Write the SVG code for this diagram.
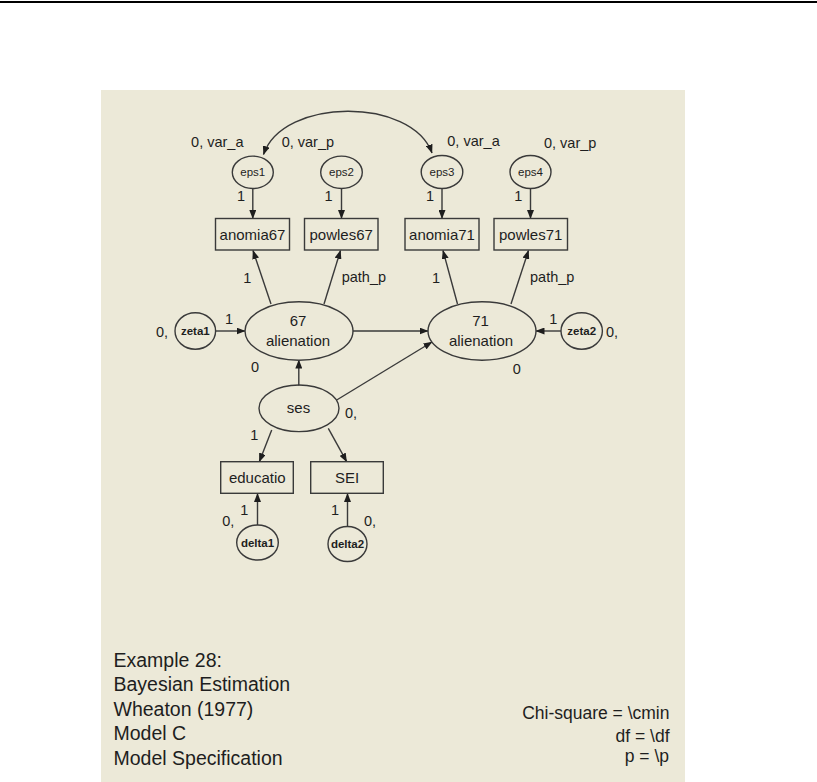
<svg xmlns="http://www.w3.org/2000/svg" width="817" height="782" viewBox="0 0 817 782">
<style>
text{font-family:"Liberation Sans",Arial,sans-serif;fill:#1e1e1e}
.lb{font-size:14.5px}
.nd{font-size:15px;text-anchor:middle}
.sm{font-size:11.5px;text-anchor:middle}
.sm2{font-size:11.5px;text-anchor:middle;font-weight:bold}
.note{font-size:19.5px}
.fit{font-size:17.5px;text-anchor:end}
.shape{fill:none;stroke:#3a3a3a;stroke-width:1.4}
.cn{fill:none;stroke:#3a3a3a;stroke-width:1.4;marker-end:url(#ah)}
</style>
<defs>
<marker id="ah" markerUnits="userSpaceOnUse" markerWidth="9" markerHeight="7" refX="8.5" refY="3.5" orient="auto-start-reverse">
<path d="M0,0 L9,3.5 L0,7 Z" fill="#1e1e1e"/>
</marker>
</defs>
<rect x="0" y="0" width="817" height="782" fill="#ffffff"/>
<rect x="0" y="1" width="817" height="2" fill="#000000"/>
<rect x="101" y="90" width="584" height="692" fill="#ECE9D8"/>

<g id="connectors">
<path class="cn" marker-start="url(#ah)" d="M263.5,154.5 C283,97 412,97 432,153"/>
<line class="cn" x1="252.8" y1="188.5" x2="252.8" y2="218.5"/>
<line class="cn" x1="341.5" y1="188.5" x2="341.5" y2="218.5"/>
<line class="cn" x1="442" y1="188.5" x2="442" y2="218.5"/>
<line class="cn" x1="530.5" y1="188.5" x2="530.5" y2="218.5"/>
<line class="cn" x1="271" y1="304" x2="253" y2="250.5"/>
<line class="cn" x1="324" y1="304" x2="340.5" y2="250.5"/>
<line class="cn" x1="457.5" y1="304" x2="443" y2="250.5"/>
<line class="cn" x1="511" y1="304" x2="528.5" y2="250.5"/>
<line class="cn" x1="215.6" y1="331" x2="245" y2="331"/>
<line class="cn" x1="353" y1="331" x2="428" y2="331"/>
<line class="cn" x1="561" y1="331" x2="536" y2="331"/>
<line class="cn" x1="298.8" y1="385.5" x2="298.8" y2="360"/>
<line class="cn" x1="336.7" y1="400" x2="432" y2="342"/>
<line class="cn" x1="271.7" y1="430" x2="259.3" y2="461.7"/>
<line class="cn" x1="328.3" y1="428.3" x2="346.7" y2="461.7"/>
<line class="cn" x1="257.5" y1="525" x2="257.5" y2="493.5"/>
<line class="cn" x1="347.5" y1="526.5" x2="347.5" y2="493.5"/>
</g>

<g id="eps1"><ellipse class="shape" cx="252.8" cy="172.3" rx="20.5" ry="16.2"/><text class="sm" x="252.8" y="176.3">eps1</text></g>
<g id="eps2"><ellipse class="shape" cx="341.5" cy="172.3" rx="20.8" ry="16.2"/><text class="sm" x="341.5" y="176.3">eps2</text></g>
<g id="eps3"><ellipse class="shape" cx="442" cy="172" rx="20.8" ry="16.5"/><text class="sm" x="442" y="176">eps3</text></g>
<g id="eps4"><ellipse class="shape" cx="530.5" cy="172" rx="20.5" ry="16.5"/><text class="sm" x="530.5" y="176">eps4</text></g>

<g id="var-labels">
<text class="lb" x="243.5" y="146.5" text-anchor="end">0, var_a</text>
<text class="lb" x="281.7" y="146.5">0, var_p</text>
<text class="lb" x="447.3" y="145.5">0, var_a</text>
<text class="lb" x="544" y="147.5">0, var_p</text>
<text class="lb" x="241" y="201" text-anchor="middle">1</text>
<text class="lb" x="328.5" y="201" text-anchor="middle">1</text>
<text class="lb" x="430" y="201" text-anchor="middle">1</text>
<text class="lb" x="518.3" y="201" text-anchor="middle">1</text>
</g>

<g id="anomia67"><rect class="shape" x="215.5" y="218.5" width="74" height="31.5"/><text class="nd" x="252.5" y="239.5">anomia67</text></g>
<g id="powles67"><rect class="shape" x="304.5" y="218.5" width="73.5" height="31.5"/><text class="nd" x="341.2" y="239.5">powles67</text></g>
<g id="anomia71"><rect class="shape" x="405" y="218.5" width="74" height="31.5"/><text class="nd" x="442" y="239.5">anomia71</text></g>
<g id="powles71"><rect class="shape" x="494" y="218.5" width="73.5" height="31.5"/><text class="nd" x="530.7" y="239.5">powles71</text></g>

<g id="path-labels">
<text class="lb" x="247.3" y="282.5" text-anchor="middle">1</text>
<text class="lb" x="341.7" y="282">path_p</text>
<text class="lb" x="436" y="282.5" text-anchor="middle">1</text>
<text class="lb" x="530" y="282">path_p</text>
</g>

<g id="alienation67"><ellipse class="shape" cx="299" cy="331" rx="54" ry="29.2"/><text class="nd" x="298" y="325.5">67</text><text class="nd" x="298" y="346">alienation</text></g>
<g id="alienation71"><ellipse class="shape" cx="482" cy="331" rx="54" ry="29.2"/><text class="nd" x="480.5" y="325.5">71</text><text class="nd" x="481" y="346">alienation</text></g>

<g id="zeta1"><ellipse class="shape" cx="195.3" cy="331" rx="20.3" ry="18.2"/><text class="sm2" x="195.3" y="335">zeta1</text></g>
<g id="zeta2"><ellipse class="shape" cx="581.7" cy="331" rx="20.7" ry="18.2"/><text class="sm2" x="581.7" y="335">zeta2</text></g>

<g id="latent-labels">
<text class="lb" x="229" y="323.5" text-anchor="middle">1</text>
<text class="lb" x="168" y="336.5" text-anchor="end">0,</text>
<text class="lb" x="553.3" y="323.5" text-anchor="middle">1</text>
<text class="lb" x="606" y="337">0,</text>
<text class="lb" x="255" y="371.5" text-anchor="middle">0</text>
<text class="lb" x="516.7" y="373.5" text-anchor="middle">0</text>
</g>

<g id="ses"><ellipse class="shape" cx="299" cy="408.3" rx="40" ry="23.3"/><text class="nd" x="298.5" y="413">ses</text></g>
<text class="lb" x="345" y="418">0,</text>
<text class="lb" x="254.3" y="440" text-anchor="middle">1</text>

<g id="educatio"><rect class="shape" x="220.7" y="461.7" width="72.6" height="31.6"/><text class="nd" x="257.3" y="482.5">educatio</text></g>
<g id="SEI"><rect class="shape" x="310.7" y="461.7" width="72.6" height="31.6"/><text class="nd" x="347" y="482.5">SEI</text></g>

<g id="delta1"><ellipse class="shape" cx="257.5" cy="542.5" rx="20.8" ry="17.5"/><text class="sm2" x="257.5" y="546.5">delta1</text></g>
<g id="delta2"><ellipse class="shape" cx="347.5" cy="544" rx="19.5" ry="17.5"/><text class="sm2" x="347.5" y="548">delta2</text></g>

<g id="delta-labels">
<text class="lb" x="244.3" y="514.5" text-anchor="middle">1</text>
<text class="lb" x="228.3" y="525.5" text-anchor="middle">0,</text>
<text class="lb" x="335" y="514.5" text-anchor="middle">1</text>
<text class="lb" x="370" y="525.5" text-anchor="middle">0,</text>
</g>

<g id="title">
<text class="note" x="113.5" y="666.5">Example 28:</text>
<text class="note" x="113.5" y="691">Bayesian Estimation</text>
<text class="note" x="113.5" y="715.5">Wheaton (1977)</text>
<text class="note" x="113.5" y="740">Model C</text>
<text class="note" x="113.5" y="764.5">Model Specification</text>
</g>
<g id="fit">
<text class="fit" x="669.5" y="718.5">Chi-square = \cmin</text>
<text class="fit" x="669.5" y="742">df = \df</text>
<text class="fit" x="669" y="762">p = \p</text>
</g>
</svg>
